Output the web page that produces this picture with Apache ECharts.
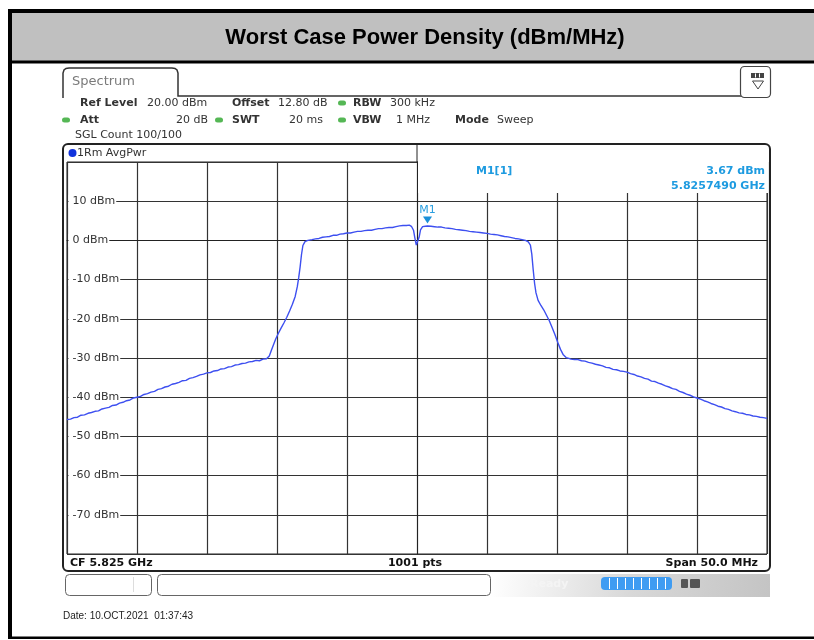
<!DOCTYPE html>
<html>
<head>
<meta charset="UTF-8">
<script src="https://cdn.jsdelivr.net/npm/echarts@6/dist/echarts.min.js"></script>
<style>html,body{margin:0;padding:0;background:#fff}</style>
</head>
<body>
<div id="main" style="width:814px;height:640px"></div>
<script>
// trace: offset from CF (MHz) and level (dBm)
var offsetMHz = [
  -25.00,-24.75,-24.50,-24.25,-24.00,-23.75,-23.50,-23.25,-23.00,-22.75,-22.50,-22.25,-22.00,-21.75,-21.50,-21.25,-21.00,-20.75,-20.50,-20.25,
  -20.00,-19.75,-19.50,-19.25,-19.00,-18.75,-18.50,-18.25,-18.00,-17.75,-17.50,-17.25,-17.00,-16.75,-16.50,-16.25,-16.00,-15.75,-15.50,-15.25,
  -15.00,-14.75,-14.50,-14.25,-14.00,-13.75,-13.50,-13.25,-13.00,-12.75,-12.50,-12.25,-12.00,-11.75,-11.50,-11.25,-11.00,-10.75,
  -10.55,-10.40,-10.25,-10.10,-9.90,-9.70,-9.50,-9.30,-9.10,-8.90,-8.70,-8.55,-8.45,-8.35,-8.25,-8.15,-8.00,-7.80,
  -7.50,-7.25,-7.00,-6.75,-6.50,-6.25,-6.00,-5.75,-5.50,-5.25,-5.00,-4.75,-4.50,-4.25,-4.00,-3.75,-3.50,-3.25,-3.00,-2.75,
  -2.50,-2.25,-2.00,-1.75,-1.50,-1.25,-1.00,-0.75,-0.55,-0.40,-0.25,-0.15,-0.05,0.00,0.05,0.15,0.25,0.40,0.60,0.75,
  1.00,1.25,1.50,1.75,2.00,2.25,2.50,2.75,3.00,3.25,3.50,3.75,4.00,4.25,4.50,4.75,5.00,5.25,5.50,5.75,
  6.00,6.25,6.50,6.75,7.00,7.25,7.50,7.75,
  7.95,8.10,8.20,8.30,8.40,8.50,8.65,8.85,9.05,9.25,9.45,9.65,9.85,10.05,10.25,10.45,10.65,10.85,
  11.00,11.25,11.50,11.75,12.00,12.25,12.50,12.75,13.00,13.25,13.50,13.75,14.00,14.25,14.50,14.75,15.00,15.25,15.50,15.75,
  16.00,16.25,16.50,16.75,17.00,17.25,17.50,17.75,18.00,18.25,18.50,18.75,19.00,19.25,19.50,19.75,20.00,20.25,20.50,20.75,
  21.00,21.25,21.50,21.75,22.00,22.25,22.50,22.75,23.00,23.25,23.50,23.75,24.00,24.25,24.50,24.75,25.00
];
var levelDbm = [
  -45.7,-45.6,-45.2,-45.1,-44.6,-44.5,-44.1,-43.9,-43.6,-43.5,-43.0,-42.8,-42.6,-42.1,-42.0,-41.5,-41.3,-40.9,-40.7,-40.2,
  -40.0,-39.8,-39.3,-39.1,-38.7,-38.5,-38.0,-37.8,-37.4,-37.2,-36.7,-36.5,-36.2,-35.8,-35.7,-35.2,-35.0,-34.7,-34.3,-34.1,
  -33.8,-33.7,-33.3,-33.2,-32.8,-32.7,-32.3,-32.2,-31.8,-31.7,-31.4,-31.3,-31.0,-30.9,-30.6,-30.7,-30.3,-30.2,
  -29.5,-28.0,-26.6,-25.2,-23.7,-22.3,-21.0,-19.6,-18.0,-16.3,-14.3,-11.8,-9.5,-6.8,-3.6,-1.3,-0.3,0.0,
  0.2,0.4,0.5,0.8,0.9,1.0,1.3,1.3,1.6,1.7,1.9,1.9,2.1,2.3,2.3,2.5,2.6,2.6,2.8,3.0,
  3.0,3.2,3.3,3.3,3.5,3.7,3.8,3.8,3.9,3.6,2.6,0.6,-1.2,-1.6,-1.0,0.8,2.7,3.5,3.6,3.67,
  3.6,3.5,3.4,3.4,3.2,3.1,3.0,2.8,2.7,2.6,2.5,2.3,2.2,2.1,2.0,1.9,1.8,1.6,1.5,1.4,
  1.2,1.0,0.9,0.7,0.5,0.4,0.2,0.0,
  -0.4,-1.2,-3.5,-7.5,-11.0,-13.4,-15.3,-16.6,-17.7,-19.1,-20.5,-22.2,-24.0,-26.0,-27.8,-29.2,-29.9,-30.1,
  -30.3,-30.4,-30.4,-30.7,-30.8,-31.1,-31.3,-31.6,-31.8,-32.0,-32.4,-32.5,-32.9,-33.0,-33.3,-33.4,-33.6,-34.0,-34.2,-34.6,
  -34.8,-35.2,-35.4,-35.9,-36.0,-36.4,-36.7,-37.1,-37.4,-37.8,-38.0,-38.5,-38.8,-39.2,-39.5,-39.9,-40.2,-40.5,-40.9,-41.2,
  -41.6,-41.9,-42.3,-42.5,-42.9,-43.1,-43.5,-43.7,-44.0,-44.1,-44.4,-44.5,-44.8,-44.9,-45.1,-45.2,-45.4
];
var markerOffset = 0.75;
var markerLevel = 3.67;

var chart = echarts.init(document.getElementById('main'));

var traceData = offsetMHz.map(function (f, i) { return [f, levelDbm[i]]; });

var FONT = '"DejaVu Sans", Verdana, sans-serif';

// little helpers for the screen furniture
function txt(x, y, s, o) {
  o = o || {};
  var font = (o.bold ? 'bold ' : '') + (o.size || 11) + 'px ' + (o.family || FONT);
  return {
    type: 'text', x: x, y: y, z: o.z || 20, silent: true,
    style: {
      text: s, fill: o.color || '#333', font: font,
      textAlign: o.align || 'left', textVerticalAlign: 'middle',
      align: o.align || 'left', verticalAlign: 'middle'
    }
  };
}
function box(x, y, w, h, o) {
  o = o || {};
  return {
    type: 'rect', z: o.z || 15, silent: true,
    shape: { x: x, y: y, width: w, height: h, r: o.r || 0 },
    style: { fill: o.fill || 'none', stroke: o.stroke || null, lineWidth: o.lw || 1 }
  };
}
function seg(x1, y1, x2, y2, color, lw, z) {
  return {
    type: 'line', z: z || 16, silent: true,
    shape: { x1: x1, y1: y1, x2: x2, y2: y2 },
    style: { stroke: color, lineWidth: lw || 1 }
  };
}
function dot(x, y, color) {
  return box(x - 4, y - 2.5, 8, 5, { fill: color, r: 2.5, z: 20 });
}

var green = '#55b755';
var deco = [
  // outer frame and title band
  box(8, 9, 820, 4, { fill: '#000', z: 30 }),
  box(8, 9, 4, 630, { fill: '#000', z: 30 }),
  box(12, 13, 810, 48, { fill: '#c0c0c0', z: 1 }),
  box(8, 60.5, 820, 3, { fill: '#000', z: 30 }),
  box(8, 636.5, 820, 2.5, { fill: '#000', z: 30 }),
  txt(425, 38, 'Worst Case Power Density (dBm/MHz)', { bold: true, size: 22, family: '"Liberation Sans", Arial, sans-serif', align: 'center', color: '#000' }),

  // Spectrum tab
  {
    type: 'polyline', z: 16, silent: true,
    shape: { points: [[63, 98], [63, 73], [64, 70], [66, 68.5], [69, 68], [172, 68], [175, 68.5], [177, 70], [178, 73], [178, 96], [770, 96]] },
    style: { stroke: '#333', lineWidth: 1.5, fill: null }
  },
  txt(72, 82, 'Spectrum', { size: 13, color: '#7a7a7a' }),

  // small icon top right
  box(740.5, 66.5, 30, 31, { stroke: '#444', fill: '#fff', r: 4, lw: 1.2, z: 17 }),
  box(751, 73, 13, 5, { fill: '#444', z: 18 }),
  seg(755.5, 73.5, 755.5, 77.5, '#fff', 1, 19),
  seg(759.5, 73.5, 759.5, 77.5, '#fff', 1, 19),
  {
    type: 'polygon', z: 18, silent: true,
    shape: { points: [[752.5, 81], [763.5, 81], [758, 89]] },
    style: { stroke: '#444', fill: '#fff', lineWidth: 1 }
  },

  // setting rows
  txt(80, 103, 'Ref Level', { bold: true }),
  txt(147, 103, '20.00 dBm'),
  txt(232, 103, 'Offset', { bold: true }),
  txt(278, 103, '12.80 dB'),
  dot(342, 103, green),
  txt(353, 103, 'RBW', { bold: true }),
  txt(390, 103, '300 kHz'),

  dot(66, 120, green),
  txt(80, 120, 'Att', { bold: true }),
  txt(208, 120, '20 dB', { align: 'right' }),
  dot(219, 120, green),
  txt(232, 120, 'SWT', { bold: true }),
  txt(323, 120, '20 ms', { align: 'right' }),
  dot(342, 120, green),
  txt(353, 120, 'VBW', { bold: true }),
  txt(430, 120, '1 MHz', { align: 'right' }),
  txt(455, 120, 'Mode', { bold: true }),
  txt(497, 120, 'Sweep'),

  txt(75, 135, 'SGL Count 100/100'),

  // diagram panel frame
  box(63, 144, 707, 427, { stroke: '#222', r: 5, lw: 2, z: 16 }),
  seg(417, 144, 417, 162, '#222', 1),
  { type: 'circle', z: 20, silent: true, shape: { cx: 72.5, cy: 153, r: 4 }, style: { fill: '#1133dd' } },
  txt(77, 153, '1Rm AvgPwr'),

  // marker info field over the top right of the grid
  box(418, 145, 350, 48, { fill: '#fff', z: 12 }),
  txt(476, 171, 'M1[1]', { bold: true, color: '#1e9be0' }),
  txt(765, 171, '3.67 dBm', { bold: true, color: '#1e9be0', align: 'right' }),
  txt(765, 186, '5.8257490 GHz', { bold: true, color: '#1e9be0', align: 'right' }),

  // footer row of the diagram
  txt(70, 563, 'CF 5.825 GHz', { bold: true, color: '#111' }),
  txt(415, 563, '1001 pts', { bold: true, color: '#111', align: 'center' }),
  txt(758, 563, 'Span 50.0 MHz', { bold: true, color: '#111', align: 'right' }),

  // status bar
  box(65.5, 574.5, 86, 21, { stroke: '#666', fill: '#fff', r: 4 }),
  seg(133.5, 577, 133.5, 592, '#ddd', 1),
  box(157.5, 574.5, 333, 21, { stroke: '#666', fill: '#fff', r: 4 }),
  {
    type: 'rect', z: 14, silent: true,
    shape: { x: 491, y: 574, width: 279, height: 23 },
    style: {
      fill: {
        type: 'linear', x: 0, y: 0, x2: 1, y2: 1,
        colorStops: [{ offset: 0, color: '#ffffff' }, { offset: 0.5, color: '#d8d8d8' }, { offset: 1, color: '#c4c4c4' }]
      }
    }
  },
  txt(530, 584, 'Ready', { bold: true, color: '#f4f4f4' }),
  box(601, 577, 71, 13, { fill: '#3f9cf2', r: 4, z: 16 }),
  seg(609.5, 578, 609.5, 589, '#fff', 1, 17),
  seg(617.5, 578, 617.5, 589, '#fff', 1, 17),
  seg(625.5, 578, 625.5, 589, '#fff', 1, 17),
  seg(633.5, 578, 633.5, 589, '#fff', 1, 17),
  seg(641.5, 578, 641.5, 589, '#fff', 1, 17),
  seg(649.5, 578, 649.5, 589, '#fff', 1, 17),
  seg(657.5, 578, 657.5, 589, '#fff', 1, 17),
  seg(665.5, 578, 665.5, 589, '#fff', 1, 17),
  box(681, 579, 7, 9, { fill: '#555', r: 1, z: 16 }),
  box(690, 579, 10, 9, { fill: '#555', r: 1, z: 16 }),

  txt(63, 616, 'Date: 10.OCT.2021  01:37:43', { size: 10, family: '"Liberation Sans", Arial, sans-serif', color: '#222' })
];

var option = {
  animation: false,
  backgroundColor: '#fff',
  grid: {
    left: 67, top: 162, width: 700, height: 392,
    show: true, borderColor: '#222', borderWidth: 1
  },
  xAxis: {
    type: 'value', min: -25, max: 25, interval: 5,
    axisLine: { show: true, lineStyle: { color: '#222' } },
    axisTick: { show: false },
    axisLabel: { show: false },
    splitLine: { show: true, lineStyle: { color: '#333', width: 1.2 } }
  },
  yAxis: {
    type: 'value', min: -80, max: 20, interval: 10,
    axisLine: { show: true, lineStyle: { color: '#222' } },
    axisTick: { show: false },
    axisLabel: {
      inside: true, margin: 1.5, showMinLabel: false, showMaxLabel: false,
      formatter: function (v) { return v + ' dBm'; },
      fontFamily: FONT, fontSize: 11, color: '#333',
      backgroundColor: '#fff', padding: [1, 1, 1, 4]
    },
    splitLine: { show: true, lineStyle: { color: '#333', width: 1.2 } }
  },
  series: [{
    type: 'line',
    data: traceData,
    showSymbol: false,
    z: 5,
    lineStyle: { color: '#3d4ff0', width: 1.4 },
    markPoint: {
      symbol: 'path://M0,0 L10,0 L5,8 Z',
      symbolSize: [9, 7],
      symbolOffset: [0, -6],
      itemStyle: { color: '#1a8fd8' },
      label: {
        show: true, position: 'top', distance: 1, formatter: 'M1',
        color: '#2a9fe0', fontSize: 11, fontFamily: FONT
      },
      data: [{ coord: [markerOffset, markerLevel], name: 'M1' }]
    }
  }],
  graphic: { elements: deco }
};

chart.setOption(option);
</script>
</body>
</html>
